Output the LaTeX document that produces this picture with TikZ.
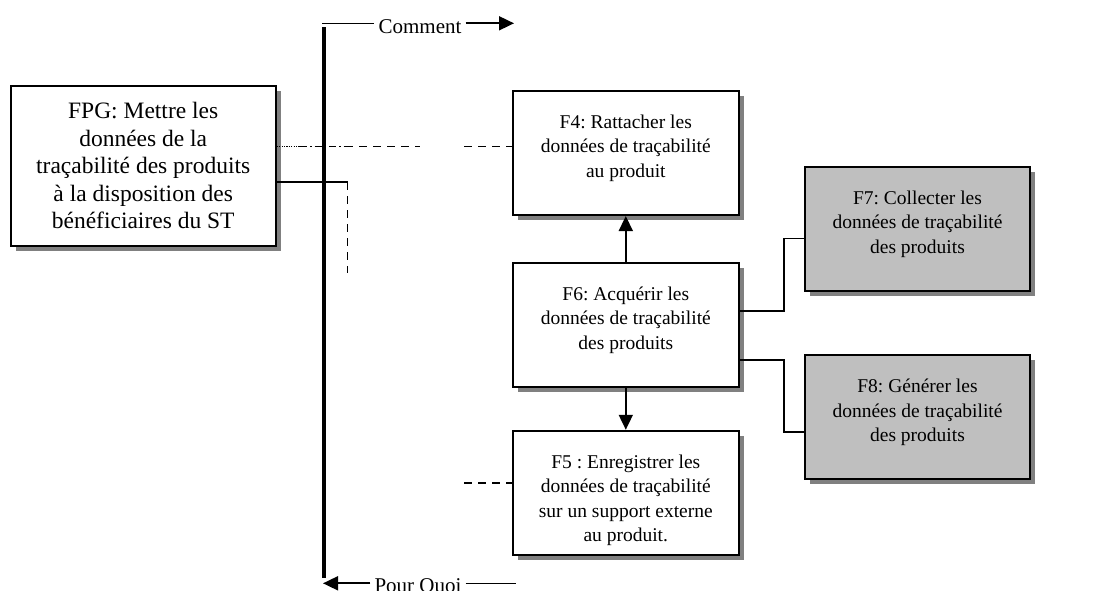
\documentclass[tikz,border=0pt]{standalone}
\usepackage{fontspec}
\setmainfont{Liberation Serif}
\usetikzlibrary{arrows.meta,positioning,shadows}
\frenchspacing

\tikzset{
  funcbox/.style={draw, line width=2pt, fill=white, minimum width=225.6pt, minimum height=124.3pt, inner sep=0pt,
    copy shadow={shadow xshift=5pt, shadow yshift=-5pt, draw=none, fill=black!50}},
  greybox/.style={funcbox, fill=black!25},
  functext/.style={align=center, inner sep=0pt, font=\fontsize{19.5}{24.5}\selectfont},
  thinline/.style={line width=1.4pt},
  dashline/.style={line width=1.4pt, dash pattern=on 8pt off 6pt},
  arrowline/.style={line width=1.8pt, -{Triangle[length=15pt,width=14pt]}},
}

\begin{document}
\begin{tikzpicture}[x=1pt,y=-1pt]
    \useasboundingbox (0,0) rectangle (1098,590);
    % main function
    \node[funcbox, minimum width=265pt, minimum height=160pt] (fpg) at (143.2,166) {};
    \node[functext, font=\fontsize{23.5}{27.5}\selectfont, below=17pt of fpg.north] (fpgtxt) {FPG: Mettre les\\donn\'ees de la\\tra\c{c}abilit\'e des produits\\\`a la disposition des\\b\'en\'eficiaires du ST};
    % functions
    \node[funcbox] (f4) at (625.8,152.9) {};
    \node[functext, below=25pt of f4.north] (f4txt) {F4: Rattacher les\\donn\'ees de tra\c{c}abilit\'e\\au produit};
    \node[funcbox] (f6) at (625.8,324.8) {};
    \node[functext, below=25pt of f6.north] (f6txt) {F6: Acqu\'erir les\\donn\'ees de tra\c{c}abilit\'e\\des produits};
    \node[funcbox] (f5) at (625.8,492.9) {};
    \node[functext, below=25pt of f5.north] (f5txt) {F5 : Enregistrer les\\donn\'ees de tra\c{c}abilit\'e\\sur un support externe\\au produit.};
    \node[greybox] (f7) at (917.5,228.7) {};
    \node[functext, below=25pt of f7.north] (f7txt) {F7: Collecter les\\donn\'ees de tra\c{c}abilit\'e\\des produits};
    \node[greybox] (f8) at (917.5,417) {};
    \node[functext, below=25pt of f8.north] (f8txt) {F8: G\'en\'erer les\\donn\'ees de tra\c{c}abilit\'e\\des produits};
    % how / why axis
    \coordinate (spineTop) at (324,27);
    \coordinate (spineBot) at (324,578);
    \draw[line width=4.5pt] (spineTop) -- (spineBot);
    \node[font=\fontsize{21}{24}\selectfont, inner sep=4pt, anchor=base] (cmt) at (420,33.3) {Comment};
    \coordinate (cmtStart) at (322,23.3);
    \coordinate (cmtTip) at (514,23.3);
    \draw[thinline] (cmtStart) -- (cmtStart -| cmt.west);
    \draw[arrowline] (cmtStart -| cmt.east) -- (cmtTip);
    \node[font=\fontsize{21}{24}\selectfont, inner sep=4pt, anchor=base] (pq) at (418,592) {Pour Quoi};
    \coordinate (pqTip) at (323,583.3);
    \coordinate (pqEnd) at (516,583.3);
    \draw[arrowline] (pqTip -| pq.west) -- (pqTip);
    \draw[thinline] (pqEnd -| pq.east) -- (pqEnd);
    % links
    \draw[arrowline] (f6.north) -- (f4.south);
    \draw[arrowline] (f6.south) -- (f5.north);
    \draw[thinline] ([yshift=14pt]f6.east) -- ++(44.4,0) |- ([yshift=-10pt]f7.west);
    \draw[thinline] ([yshift=-35pt]f6.east) -- ++(44.4,0) |- ([yshift=-15pt]f8.west);
    \coordinate (dotA) at (300,146.7);
    \coordinate (dotB) at (345,146.7);
    \coordinate (dotC) at (420,146.7);
    \coordinate (dotD) at (464,146.7);
    \draw[line width=1.2pt, dash pattern=on 1.2pt off 1.2pt] ([yshift=19.3pt]fpg.east) -- (dotA);
    \draw[line width=1.2pt, dash pattern=on 7pt off 3pt on 1.5pt off 3pt] (dotA) -- (dotB);
    \draw[dashline] (dotB) -- (dotC);
    \draw[dashline] (dotD) -- (dotD -| f4.west);
    \coordinate (whyTurn) at (347.5,182);
    \draw[thinline] ([yshift=-16pt]fpg.east) -- (whyTurn);
    \draw[dashline] (whyTurn) -- ++(0,91);
    \coordinate (f5Dash) at (464,483);
    \draw[dashline] (f5Dash) -- (f5Dash -| f5.west);
\end{tikzpicture}
\end{document}
